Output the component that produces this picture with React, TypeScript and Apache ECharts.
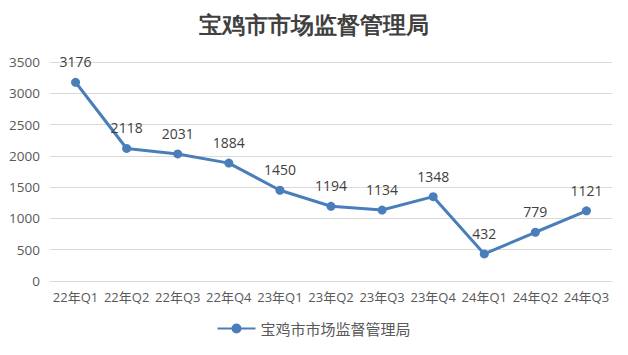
import React, { useEffect, useRef } from "react";
import * as echarts from "echarts";

const categories = ["22年Q1", "22年Q2", "22年Q3", "22年Q4", "23年Q1", "23年Q2", "23年Q3", "23年Q4", "24年Q1", "24年Q2", "24年Q3"];
const values = [3176, 2118, 2031, 1884, 1450, 1194, 1134, 1348, 432, 779, 1121];
const seriesName = "宝鸡市市场监督管理局";
const titleText = "宝鸡市市场监督管理局";

export default function App() {
  const ref = useRef<HTMLDivElement>(null);
  useEffect(() => {
    const chart = echarts.init(ref.current!, null, { renderer: "svg" });
    const font = "'Open Sans', 'Noto Sans CJK SC', sans-serif";
    chart.setOption({
      animation: false,
      backgroundColor: "#ffffff",
      title: {
        text: titleText,
        left: "center",
        top: 9,
        textStyle: {
          fontFamily: "serif",
          fontSize: 23,
          fontWeight: "bold",
          color: "#404040",
        },
      },
      legend: {
        bottom: 14,
        left: "center",
        itemWidth: 38,
        itemHeight: 10,
        icon: "path://M0,4 L38,4 L38,6 L0,6 Z M19,0 A5,5 0 1 1 19,10 A5,5 0 1 1 19,0 Z",
        textStyle: { fontFamily: "'Noto Sans CJK SC', sans-serif", fontSize: 15, color: "#595959" },
        data: [seriesName],
      },
      grid: { left: 50, right: 16, top: 62, bottom: 74 },
      xAxis: {
        type: "category",
        data: categories,
        boundaryGap: true,
        axisLine: { show: true, lineStyle: { color: "#d9d9d9" } },
        axisTick: { show: false },
        axisLabel: { fontFamily: font, fontSize: 13, color: "#595959", margin: 9, interval: 0 },
      },
      yAxis: {
        type: "value",
        min: 0,
        max: 3500,
        interval: 500,
        axisLine: { show: false },
        axisTick: { show: false },
        splitLine: { lineStyle: { color: "#d9d9d9" } },
        axisLabel: { fontFamily: font, fontSize: 13.5, color: "#595959", margin: 10, formatter: (v: number) => String(v) },
      },
      series: [
        {
          name: seriesName,
          type: "line",
          data: values,
          symbol: "circle",
          symbolSize: 9,
          lineStyle: { color: "#4a7ebb", width: 3 },
          itemStyle: { color: "#4a7ebb" },
          label: {
            show: true,
            position: "top",
            distance: 9,
            fontFamily: font,
            fontSize: 14,
            color: "#404040",
          },
        },
      ],
    });
    return () => chart.dispose();
  }, []);
  return <div ref={ref} style={{ width: 628, height: 355, position: "absolute", left: 0, top: 0 }} />;
}
